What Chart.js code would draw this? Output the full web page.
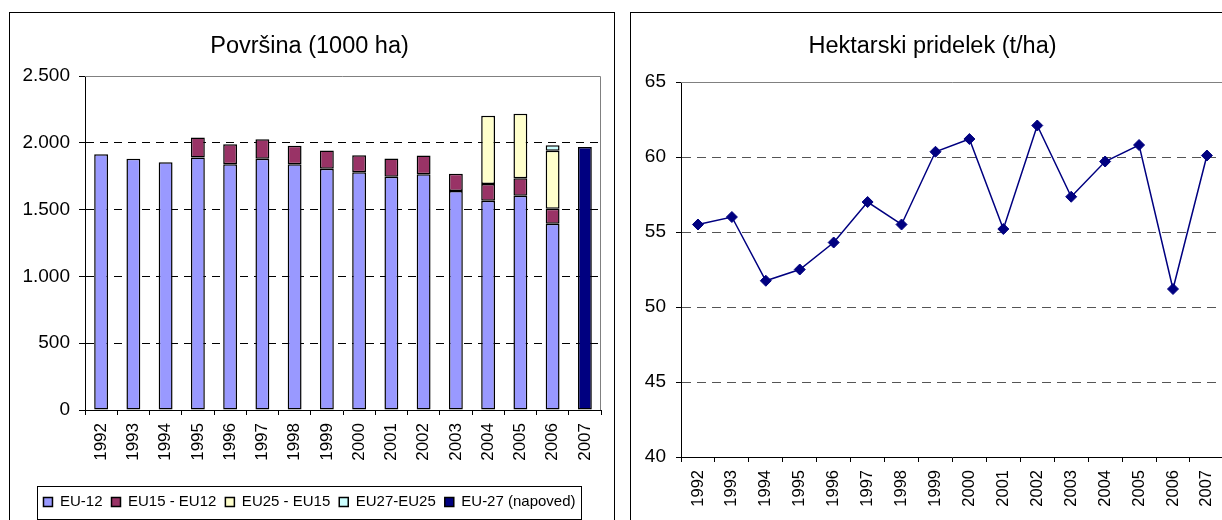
<!DOCTYPE html>
<html>
<head>
<meta charset="utf-8">
<script src="https://cdn.jsdelivr.net/npm/chart.js@4.4.1/dist/chart.umd.min.js"></script>
<style>
   html, body { margin: 0; padding: 0; background: #fff; }
   body { width: 1222px; height: 520px; overflow: hidden; position: relative; }
   .box { position: absolute; top: 12px; width: 606px; height: 520px; border: 1px solid #000; box-sizing: border-box; }
   #leftBox { left: 9px; }
   #rightBox { left: 630px; }
   canvas { display: block; }
</style>
</head>
<body>
<div class="box" id="leftBox"><canvas id="povrsina" width="604" height="518"></canvas></div>
<div class="box" id="rightBox"><canvas id="pridelek" width="604" height="518"></canvas></div>
<script>
// podatki
const years = ["1992", "1993", "1994", "1995", "1996", "1997", "1998", "1999",
   "2000", "2001", "2002", "2003", "2004", "2005", "2006", "2007"];
const eu12 = [1915, 1880, 1855, 1890, 1840, 1880, 1840, 1805, 1780, 1745, 1765, 1640, 1567, 1604, 1395, null];
const eu15_eu12 = [null, null, null, 150, 150, 147, 137, 137, 127, 137, 140, 128, 125, 130, 112, null];
const eu25_eu15 = [null, null, null, null, null, null, null, null, null, null, null, null, 511, 484, 434, null];
const eu27_eu25 = [null, null, null, null, null, null, null, null, null, null, null, null, null, null, 40, null];
const eu27_napoved = [null, null, null, null, null, null, null, null, null, null, null, null, null, null, null, 1969];
const pridelek = [55.5, 56.0, 51.75, 52.5, 54.3, 57.0, 55.5, 60.35, 61.2, 55.2, 62.1, 57.35, 59.7, 60.8, 51.2, 60.1];

Chart.defaults.font.family = "'Liberation Sans', Arial, sans-serif";
Chart.defaults.color = "#000";
Chart.defaults.animation = false;

function fmtThousands(v) {
   return String(v).replace(/\B(?=(\d{3})+(?!\d))/g, ".");
}

// siv okvir zgoraj in desno
const plotFrame = {
   id: "plotFrame",
   beforeDatasetsDraw(chart) {
      const { ctx, chartArea: a } = chart;
      ctx.save();
      ctx.strokeStyle = "#808080";
      ctx.lineWidth = 1;
      ctx.beginPath();
      ctx.moveTo(a.left, Math.round(a.top) + 0.5);
      ctx.lineTo(Math.round(a.right) - 0.5, Math.round(a.top) + 0.5);
      ctx.lineTo(Math.round(a.right) - 0.5, a.bottom);
      ctx.stroke();
      ctx.restore();
   }
};

// okvir okoli legende
const legendFrame = {
   id: "legendFrame",
   afterDraw(chart) {
      const lg = chart.legend;
      if (!lg || !lg.legendHitBoxes || !lg.legendHitBoxes.length) return;
      const hb = lg.legendHitBoxes;
      const left = Math.min(...hb.map(h => h.left)) - 6;
      const right = Math.max(...hb.map(h => h.left + h.width)) + 6;
      const ctx = chart.ctx;
      ctx.save();
      ctx.strokeStyle = "#000";
      ctx.lineWidth = 1;
      ctx.strokeRect(Math.round(left) + 0.5, Math.round(lg.top) + 0.5, Math.round(right - left), Math.round(lg.height) - 1);
      ctx.restore();
   }
};

function barSet(label, data, color) {
   return {
      label: label,
      data: data,
      backgroundColor: color,
      borderColor: "#000",
      borderWidth: 1.5,
      borderSkipped: false,
      inflateAmount: 0,
      stack: "s",
      categoryPercentage: 1,
      barPercentage: 0.43
   };
}

new Chart(document.getElementById("povrsina"), {
   type: "bar",
   data: {
      labels: years,
      datasets: [
         barSet("EU-12", eu12, "#9999FF"),
         barSet("EU15 - EU12", eu15_eu12, "#993366"),
         barSet("EU25 - EU15", eu25_eu15, "#FFFFCC"),
         barSet("EU27-EU25", eu27_eu25, "#CCFFFF"),
         barSet("EU-27 (napoved)", eu27_napoved, "#000080")
      ]
   },
   options: {
      responsive: false,
      devicePixelRatio: 1,
      layout: { padding: { left: 8, right: 13, top: 0, bottom: 11.5 } },
      plugins: {
         title: {
            display: true,
            text: "Površina (1000 ha)",
            font: { size: 23.5, weight: "normal" },
            color: "#000",
            padding: { top: 19, bottom: 15.8 }
         },
         legend: {
            position: "bottom",
            labels: { boxWidth: 9, boxHeight: 9, padding: 9, font: { size: 15 }, color: "#000" }
         },
         tooltip: { enabled: false }
      },
      scales: {
         x: {
            stacked: true,
            ticks: { minRotation: 90, maxRotation: 90, padding: 8, font: { size: 17 }, color: "#000", autoSkip: false },
            grid: { drawOnChartArea: false, drawTicks: true, tickLength: 5, color: "#000", tickColor: "#000" },
            border: { color: "#000", width: 1 },
            afterFit: s => { s.height = 75.5; }
         },
         y: {
            stacked: true,
            min: 0,
            max: 2500,
            ticks: { stepSize: 500, padding: 9, font: { size: 19 }, color: "#000", callback: v => fmtThousands(v) },
            grid: {
               color: c => (c.tick && (c.tick.value === 0 || c.tick.value === 2500)) ? "rgba(0,0,0,0)" : "#000",
               tickColor: "#000",
               tickLength: 6,
               tickBorderDash: []
            },
            border: { color: "#000", width: 1, dash: [8, 6] },
            afterFit: s => { s.width = 67; }
         }
      }
   },
   plugins: [plotFrame, legendFrame]
});

new Chart(document.getElementById("pridelek"), {
   type: "line",
   data: {
      labels: years,
      datasets: [{
         label: "Hektarski pridelek",
         data: pridelek,
         borderColor: "#000080",
         backgroundColor: "#000080",
         borderWidth: 1.5,
         pointStyle: "rectRot",
         pointRadius: 5.5,
         pointBorderWidth: 1,
         tension: 0,
         fill: false
      }]
   },
   options: {
      responsive: false,
      devicePixelRatio: 1,
      layout: { padding: { left: 8, right: 9, top: 0, bottom: 0 } },
      plugins: {
         title: {
            display: true,
            text: "Hektarski pridelek (t/ha)",
            font: { size: 23.5, weight: "normal" },
            color: "#000",
            padding: { top: 19, bottom: 21.8 }
         },
         legend: { display: false },
         tooltip: { enabled: false }
      },
      scales: {
         x: {
            offset: true,
            ticks: { minRotation: 90, maxRotation: 90, padding: 8, font: { size: 16.5 }, color: "#000", autoSkip: false },
            grid: { offset: true, drawOnChartArea: false, drawTicks: true, tickLength: 5, color: "#000", tickColor: "#000" },
            border: { color: "#000", width: 1 },
            afterFit: s => { s.height = 74; }
         },
         y: {
            min: 40,
            max: 65,
            ticks: { stepSize: 5, padding: 10, font: { size: 19 }, color: "#000" },
            grid: {
               color: c => (c.tick && (c.tick.value === 40 || c.tick.value === 65)) ? "rgba(0,0,0,0)" : "#555",
               tickColor: "#000",
               tickLength: 5,
               tickBorderDash: []
            },
            border: { color: "#000", width: 1, dash: [9, 6] },
            afterFit: s => { s.width = 42; }
         }
      }
   },
   plugins: [plotFrame]
});
</script>
</body>
</html>
